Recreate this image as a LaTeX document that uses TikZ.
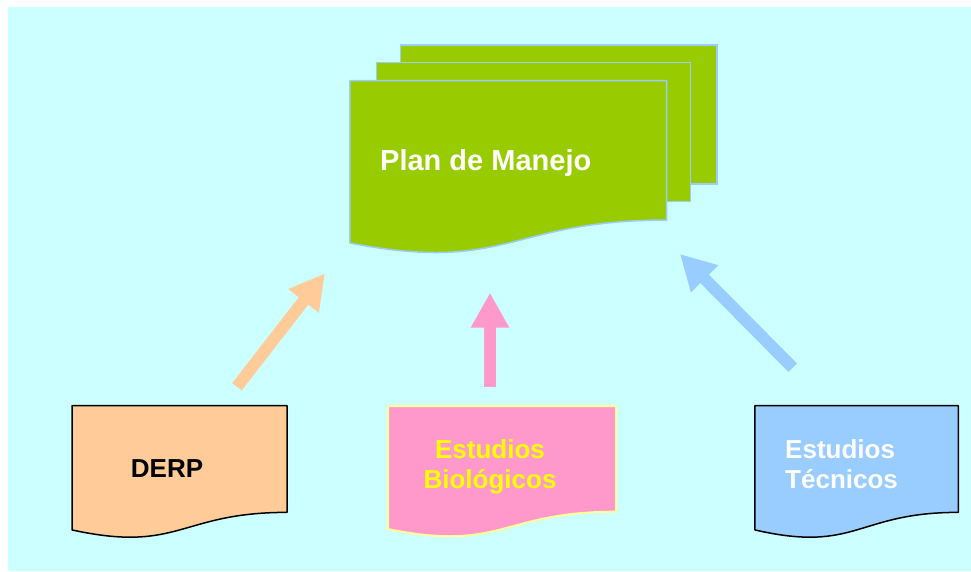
\documentclass[tikz,border=0pt]{standalone}
\usepackage{fontspec}
\setmainfont{Liberation Sans}
\usetikzlibrary{arrows.meta, positioning, calc}
\definecolor{bgcyan}{HTML}{CCFFFF}
\definecolor{plangreen}{HTML}{99CC00}
\definecolor{planedge}{HTML}{99CCFF}
\definecolor{derporange}{HTML}{FFCC99}
\definecolor{biopink}{HTML}{FF99CC}
\definecolor{bioedge}{HTML}{FFFF99}
\definecolor{biotext}{HTML}{FFFF00}
\definecolor{tecblue}{HTML}{99CCFF}
\tikzset{
  sheet/.style={rectangle, inner sep=0pt, outer sep=0pt},
  planpage/.style={sheet, draw=planedge, fill=plangreen, line width=1.5pt},
  docedge/.style={line width=1.5pt, line join=round},
  doctext/.style={inner sep=0pt, font=\fontsize{26pt}{29.5pt}\selectfont\bfseries},
  fatarrow/.style={line width=12pt, -{Triangle[width=36pt,length=35pt]}}
}
% outline of a flowchart document: flat top, wavy bottom
\newcommand{\docoutline}[2]{%
  \path[#2] (#1.north west) -- (#1.north east)
    -- ($(#1.north east)!0.802!(#1.south east)$)
    .. controls ($(#1.north)!0.802!(#1.south)$) and ($(#1.north)!1.1106!(#1.south)$)
    .. ($(#1.north west)!0.934!(#1.south west)$) -- cycle;}

\begin{document}
\begin{tikzpicture}[x=1pt, y=-1pt]
        \useasboundingbox (0,0) rectangle (971,571);
        \fill[bgcyan] (8,7) rectangle (971,571);

        % Plan stack
        \node (plan) [sheet, minimum width=316.7pt, minimum height=173.8pt] at (508.3,167.6) {};
        \node (plan back) [planpage, minimum width=316.3pt, minimum height=139pt] at (558.8,114.5) {};
        \node (plan mid) [planpage, minimum width=314pt, minimum height=139pt] at (533.7,132.2) {};
        \docoutline{plan}{fill=plangreen, draw=planedge, docedge}
        \node (plan text) [doctext, font=\fontsize{29pt}{32pt}\selectfont\bfseries, text=white, anchor=base west] at (380,170) {Plan de Manejo};

        % Source documents
        \node (derp) [sheet, minimum width=215pt, minimum height=133pt] at (179.5,472.2) {};
        \node (bio) [sheet, minimum width=228pt, minimum height=131.7pt] at (502,471.9) {};
        \node (tec) [sheet, minimum width=203.3pt, minimum height=133pt] at (856.6,472.2) {};
        \docoutline{derp}{fill=derporange, draw=black, docedge}
        \docoutline{bio}{fill=biopink, draw=bioedge, docedge, line width=2pt}
        \docoutline{tec}{fill=tecblue, draw=black, docedge}

        \node (derp text) [doctext, anchor=base west] at (130.7,477.7) {DERP};
        \node (bio text) [doctext, text=biotext, align=center, anchor=base] at (490,488) {Estudios\\Biológicos};
        \node (tec text) [doctext, text=white, align=left, anchor=base west] at (785,488) {Estudios\\Técnicos};

        % Arrows
        \coordinate (derp tail) at (237,386.7);
        \coordinate (derp tip) at (325,273.3);
        \coordinate (bio tail) at (490,386.7);
        \coordinate (bio tip) at (490,292.7);
        \coordinate (tec tail) at (792.7,367.7);
        \coordinate (tec tip) at (680,254);
        \draw [fatarrow, derporange] (derp tail) -- (derp tip);
        \draw [fatarrow, biopink] (bio tail) -- (bio tip);
        \draw [fatarrow, tecblue] (tec tail) -- (tec tip);
\end{tikzpicture}
\end{document}
